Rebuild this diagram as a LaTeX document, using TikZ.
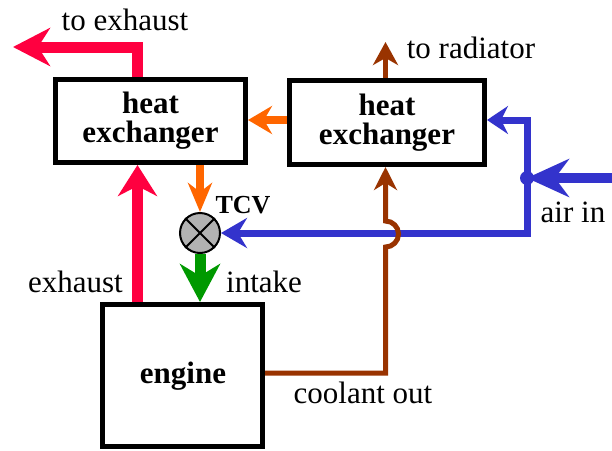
\documentclass[tikz,border=0pt]{standalone}
\usepackage{fontspec}
\setmainfont{Liberation Serif}
\usetikzlibrary{arrows.meta}
\definecolor{cred}{RGB}{255,0,64}
\definecolor{corange}{RGB}{255,102,0}
\definecolor{cgreen}{RGB}{0,153,0}
\definecolor{cblue}{RGB}{51,51,204}
\definecolor{cbrown}{RGB}{153,51,0}
\definecolor{cgray}{RGB}{178,178,178}
\begin{document}
\begin{tikzpicture}[x=1pt,y=-1pt,
  every node/.style={font=\fontsize{31}{29}\selectfont},
  box/.style={draw, line width=5pt, align=center, inner sep=0pt,
    font=\fontsize{31}{29}\selectfont\bfseries},
  lbl/.style={inner sep=0pt, anchor=base},
  redflow/.style={draw=cred, line width=11pt, line join=miter},
  orangeflow/.style={draw=corange, line width=8pt},
  greenflow/.style={draw=cgreen, line width=11pt},
  blueflow/.style={draw=cblue, line width=7pt, line join=miter},
  airflow/.style={draw=cblue, line width=10pt},
  brownflow/.style={draw=cbrown, line width=5pt, line join=miter}]
\useasboundingbox (0,0) rectangle (612,450);

% boxes
\node[box, minimum width=190pt, minimum height=83pt] (lhx) at (150.5,121) {heat\\exchanger};
\node[box, minimum width=195pt, minimum height=84pt] (rhx) at (387,122.5) {heat\\exchanger};
\node[box, minimum width=160pt, minimum height=142pt] (engine) at (182.5,375.5) {};
\node[lbl, font=\fontsize{31}{31}\selectfont\bfseries] (englbl) at (183,383) {engine};
\node[circle, draw, line width=2pt, fill=cgray, minimum size=40pt, inner sep=0pt] (tcv) at (200,233) {};
\draw[line width=2pt] (tcv.north west) -- (tcv.south east);
\draw[line width=2pt] (tcv.north east) -- (tcv.south west);

% helper coordinates
\coordinate (exx) at (137.5,0);
\coordinate (tox) at (13,47);
\coordinate (ory) at (0,120);
\coordinate (jn) at (527,178);
\coordinate (airsrc) at (612,178);
\coordinate (btop) at (527,120);
\coordinate (bbot) at (527,233);
\coordinate (brx) at (385.5,0);
\coordinate (cool) at (385.5,373);
\coordinate (hopb) at (385.5,247);
\coordinate (rad) at (385.5,42);

% red exhaust
\draw[redflow, -{Stealth[length=31pt, width=39pt, inset=10pt]}]
  (engine.north -| exx) -- (lhx.south -| exx);
\draw[redflow, -{Stealth[length=37pt, width=38pt, inset=12pt]}]
  (lhx.north -| exx) |- (tox);

% orange
\draw[orangeflow, -{Stealth[length=24pt, width=28pt, inset=8pt]}]
  (rhx.west |- ory) -- (lhx.east |- ory);
\draw[orangeflow, -{Stealth[length=29pt, width=24pt, inset=9pt]}]
  (lhx.south -| tcv) -- (tcv.north);

% green
\draw[greenflow, -{Stealth[length=38pt, width=40pt, inset=12pt]}]
  (tcv.south) -- (engine.north -| tcv);

% blue
\draw[airflow, -{Stealth[length=42pt, width=38pt, inset=14pt]}]
  (airsrc) -- (jn);
\draw[blueflow, -{Stealth[length=21pt, width=28pt, inset=7pt]}]
  (jn) -- (btop) -- (rhx.east |- btop);
\draw[blueflow, -{Stealth[length=26pt, width=30pt, inset=9pt]}]
  (jn) -- (bbot) -- (tcv.east);
\fill[cblue] (jn) circle (7pt);

% brown coolant
\draw[brownflow, -{Stealth[length=23pt, width=23pt, inset=7pt]}]
  (engine.east |- cool) -- (cool) -- (hopb)
  arc[start angle=-90, end angle=90, radius=13pt] -- (rhx.south -| brx);
\draw[brownflow, -{Stealth[length=23pt, width=25pt, inset=7pt]}]
  (rhx.north -| brx) -- (rad);

% labels
\node[lbl] (lexh) at (125,30) {to exhaust};
\node[lbl] (lrad) at (471,58) {to radiator};
\node[lbl, font=\fontsize{26}{26}\selectfont\bfseries] (ltcv) at (243,213) {TCV};
\node[lbl] (lint) at (264,292) {intake};
\node[lbl] (lex) at (75.5,292) {exhaust};
\node[lbl] (lcool) at (363,403) {coolant out};
\node[lbl] (lair) at (573,222) {air in};
\end{tikzpicture}
\end{document}
